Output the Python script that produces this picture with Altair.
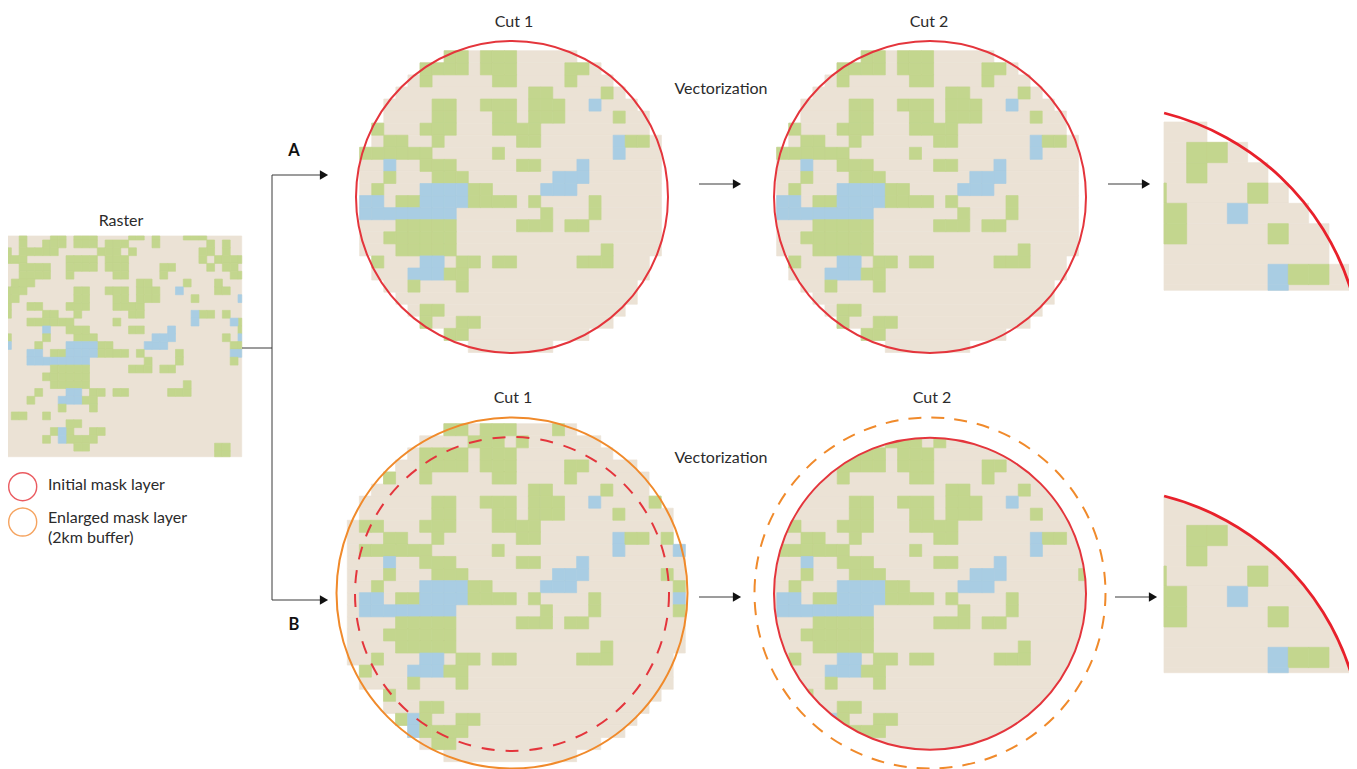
import altair as alt
import pandas as pd

# Land-cover raster, one list of column indices per row
GREEN = [
    [2, 6, 7, 9, 10, 11, 16, 17, 19, 23, 24, 25],
    [2, 5, 6, 7, 9, 10, 11, 13, 14, 15, 19, 26, 28],
    [0, 2, 3, 4, 5, 6, 12, 13, 14, 16, 25, 26, 28],
    [0, 1, 2, 8, 9, 10, 11, 13, 14, 15, 25, 27, 28, 29, 30],
    [2, 3, 4, 5, 8, 9, 10, 11, 13, 14, 15, 20, 21, 26, 28, 29],
    [2, 3, 4, 5, 8, 14, 15, 20, 29, 30],
    [1, 2, 3, 17, 18, 23, 27],
    [0, 1, 2, 9, 10, 13, 14, 15, 17, 18, 19, 27, 28],
    [0, 1, 9, 10, 14, 15, 17, 18, 19, 24],
    [0, 3, 4, 8, 9, 10, 14, 15, 16, 17],
    [0, 5, 6, 9, 16, 17, 25, 26, 28],
    [3, 4, 5, 6, 7, 8, 14, 30],
    [8, 9, 10, 16, 17, 30],
    [0, 5, 9, 10, 11, 28],
    [4, 12, 13, 29, 30],
    [6, 7, 12, 13, 14, 15, 17, 22],
    [18, 22, 29],
    [6, 7, 8, 9, 10, 16, 17, 18, 20, 21],
    [5, 6, 7, 8, 9, 10],
    [6, 7, 8, 9, 10, 23],
    [4, 11, 12, 14, 15, 21, 22, 23],
    [3, 10, 11],
    [7, 11],
    [1, 2, 5],
    [8, 9],
    [6, 8, 11, 12],
    [5, 8, 9, 10, 11],
    [9, 10, 27, 28],
    [27, 28],
]
BLUE = [
    [], [], [], [], [], [], [],
    [22],
    [30],
    [],
    [24],
    [24, 29],
    [5, 21],
    [19, 20, 21, 30],
    [0, 8, 9, 10, 11, 18, 19, 20],
    [3, 4, 8, 9, 10, 11, 29, 30],
    [3, 4, 5, 6, 7, 8, 9, 10],
    [], [], [],
    [8, 9],
    [7, 8, 9],
    [], [], [],
    [7],
    [7],
    [], [],
]

# Visible cell spans of the round cuts, by grid row: (row, first column, last column)
SPAN_B = [(0, 8, 18), (1, 6, 20), (2, 5, 21), (3, 4, 23), (4, 3, 24), (5, 2, 24), (6, 1, 25),
          (7, 1, 26), (8, 0, 26), (9, 0, 26), (10, 0, 27), (11, 0, 27), (12, 0, 27), (13, 0, 27),
          (14, 0, 27), (15, 0, 27), (16, 0, 27), (17, 0, 27), (18, 0, 27), (19, 0, 26), (20, 1, 26),
          (21, 1, 26), (22, 3, 25), (23, 3, 24), (24, 4, 23), (25, 5, 22), (26, 6, 20), (27, 8, 18)]
SPAN_A = [(2, 8, 18), (3, 6, 20), (4, 5, 21), (5, 4, 22), (6, 3, 23), (7, 3, 24), (8, 2, 24),
          (9, 2, 25), (10, 1, 25), (11, 1, 25), (12, 1, 25), (13, 1, 25), (14, 1, 25), (15, 1, 25),
          (16, 1, 25), (17, 1, 25), (18, 1, 25), (19, 2, 24), (20, 2, 24), (21, 3, 23), (22, 4, 23),
          (23, 5, 22), (24, 6, 21), (25, 8, 19), (26, 10, 16)]

BG, GRN, BLU = "#EBE2D5", "#C3D68E", "#A9CDE3"
RED, ORANGE, INSET_RED = "#E4353C", "#F08A2B", "#E8212B"
INK = "#2B2B2B"


def grid_kind(row, col):
    r, c = row + 1, col + 2
    if 0 <= r < len(GREEN):
        if c in BLUE[r]:
            return "blue"
        if c in GREEN[r]:
            return "green"
    return None


def panel(spans, x0, y0, cell, xmin=-1e9, xmax=1e9, ymin=-1e9, ymax=1e9):
    base, over = [], []
    for row, a, b in spans:
        y1, y2 = max(y0 + row * cell, ymin), min(y0 + (row + 1) * cell, ymax)
        if y2 <= y1:
            continue
        bx1, bx2 = max(x0 + a * cell, xmin), min(x0 + (b + 1) * cell, xmax)
        if bx2 > bx1:
            base.append(dict(x=bx1, x2=bx2, y=y1, y2=y2, kind="bg"))
        for col in range(a, b + 1):
            x1, x2 = max(x0 + col * cell, xmin), min(x0 + (col + 1) * cell, xmax)
            k = grid_kind(row, col)
            if k and x2 > x1:
                over.append(dict(x=x1, x2=x2, y=y1, y2=y2, kind=k))
    return base + over


def raster():
    over = []
    cell = 7.817
    xmin, xmax, ymin, ymax = 8.0, 241.7, 236.0, 456.7
    base = [dict(x=xmin, x2=xmax, y=ymin, y2=ymax, kind="bg")]
    for r in range(29):
        for kind, table in (("green", GREEN), ("blue", BLUE)):
            for c in table[r]:
                x1 = max(11.33 + (c - 1) * cell, xmin)
                x2 = min(11.33 + c * cell, xmax)
                y1 = max(240.0 + (r - 1) * cell, ymin)
                y2 = min(240.0 + r * cell, ymax)
                over.append(dict(x=x1, x2=x2, y=y1, y2=y2, kind=kind))
    return base + over


CELL = 12.07
INSET = 20.33
cells = (
    raster()
    + panel(SPAN_A, 347.6, 26.6, CELL)
    + panel(SPAN_A, 764.6, 26.6, CELL)
    + panel(SPAN_B, 347.3, 423.7, CELL)
    + panel(SPAN_B, 764.8, 423.7, CELL)
    + panel(SPAN_A, 1186.67 - 18 * INSET, 142.33 - 3 * INSET, INSET, xmin=1164.0, ymax=290.3)
    + panel(SPAN_B, 1186.67 - 18 * INSET, 525.33 - 3 * INSET, INSET, xmin=1164.0, ymax=672.7)
)
cells_df = pd.DataFrame(cells)

X = alt.Scale(domain=[8, 1349], nice=False, zero=False)
Y = alt.Scale(domain=[769, 8], nice=False, zero=False)


def xy():
    return dict(x=alt.X("x:Q", scale=X, axis=None), y=alt.Y("y:Q", scale=Y, axis=None))


layers = []
color_scale = alt.Scale(domain=["bg", "green", "blue"], range=[BG, GRN, BLU])
layers.append(
    alt.Chart(cells_df).mark_rect(strokeWidth=0.7).encode(
        **xy(), x2="x2:Q", y2="y2:Q",
        fill=alt.Fill("kind:N", scale=color_scale, legend=None),
        stroke=alt.Stroke("kind:N", scale=color_scale, legend=None),
    )
)

# White masks that trim the cells of panel B round the circle
layers.append(
    alt.Chart(pd.DataFrame({"x": [930.0], "y": [593.7]})).mark_arc(
        radius=200, radius2=156, theta=0, theta2=6.2832, fill="white", stroke=None
    ).encode(**xy())
)
layers.append(
    alt.Chart(pd.DataFrame({"x": [1099.2], "y": [751.7]})).mark_arc(
        radius=335, radius2=264, theta=0, theta2=1.5, fill="white", stroke=None
    ).encode(**xy())
)

# Whole circles: centre x, centre y, radius, colour, width, dash
CIRCLES = [
    (512.0, 197.0, 156.0, RED, 2.0, None),
    (930.0, 197.0, 156.0, RED, 2.0, None),
    (512.0, 594.0, 157.0, RED, 2.0, [13, 11]),
    (512.0, 593.0, 175.5, ORANGE, 2.0, None),
    (930.0, 593.7, 156.0, RED, 2.0, None),
    (930.0, 593.0, 175.5, ORANGE, 2.0, [13, 10]),
    (22.7, 486.7, 14.0, "#EA5B60", 1.4, None),
    (22.7, 522.0, 14.0, "#F5A35F", 1.4, None),
]
for cx, cy, r, col, w, dash in CIRCLES:
    props = dict(size=(2 * r) ** 2, filled=False, shape="circle", stroke=col, strokeWidth=w, opacity=1)
    if dash:
        props["strokeDash"] = dash
    layers.append(alt.Chart(pd.DataFrame({"x": [cx], "y": [cy]})).mark_point(**props).encode(**xy()))

# Quarter arcs of the detail insets
for cy in (368.7, 751.7):
    layers.append(
        alt.Chart(pd.DataFrame({"x": [1099.2], "y": [cy]})).mark_arc(
            radius=265.2, radius2=262.4, theta=0.2486, theta2=1.2687, fill=INSET_RED, stroke=None
        ).encode(**xy())
    )

# Connector lines and arrows
LINES_X1 = [242, 272, 272, 272, 699, 1108, 699, 1115]
LINES_Y1 = [348, 175, 175, 600, 184, 184, 597, 597]
LINES_X2 = [272, 272, 320, 320, 733, 1142, 733, 1149]
LINES_Y2 = [348, 600, 175, 600, 184, 184, 597, 597]
lines_df = pd.DataFrame({"x": LINES_X1, "y": LINES_Y1, "x2": LINES_X2, "y2": LINES_Y2})
layers.append(
    alt.Chart(lines_df).mark_rule(color="#3a3a3a", strokeWidth=1).encode(**xy(), x2="x2:Q", y2="y2:Q")
)
HEADS_X = [324, 324, 737, 1146, 737, 1153]
HEADS_Y = [175, 600, 184, 184, 597, 597]
layers.append(
    alt.Chart(pd.DataFrame({"x": HEADS_X, "y": HEADS_Y})).mark_point(
        shape="triangle-right", size=90, filled=True, color="#111111", opacity=1
    ).encode(**xy())
)

# Labels
CENTER_TEXT = ["Cut 1", "Cut 2", "Vectorization", "Raster", "Cut 1", "Cut 2", "Vectorization"]
CENTER_X = [514, 929, 721, 121, 513, 932, 721]
CENTER_Y = [22, 22, 89, 221, 398, 398, 458]
layers.append(
    alt.Chart(pd.DataFrame({"x": CENTER_X, "y": CENTER_Y, "t": CENTER_TEXT})).mark_text(
        font="Lato", fontSize=16, color=INK, align="center", baseline="middle"
    ).encode(**xy(), text="t:N")
)
LEFT_TEXT = ["Initial mask layer", "Enlarged mask layer", "(2km buffer)"]
LEFT_X = [48, 48, 48]
LEFT_Y = [485, 518, 538]
layers.append(
    alt.Chart(pd.DataFrame({"x": LEFT_X, "y": LEFT_Y, "t": LEFT_TEXT})).mark_text(
        font="Lato", fontSize=16, color=INK, align="left", baseline="middle"
    ).encode(**xy(), text="t:N")
)
BOLD_TEXT = ["A", "B"]
BOLD_X = [294, 294]
BOLD_Y = [151, 625]
layers.append(
    alt.Chart(pd.DataFrame({"x": BOLD_X, "y": BOLD_Y, "t": BOLD_TEXT})).mark_text(
        font="Lato", fontSize=16.5, fontWeight="bold", color="#111111", align="center", baseline="middle"
    ).encode(**xy(), text="t:N")
)

chart = (
    alt.layer(*layers)
    .properties(width=1341, height=761, padding=0, autosize=alt.AutoSizeParams(type="none"))
    .configure_view(stroke=None)
)
chart.save("out.html", embed_options={"renderer": "svg", "actions": False})
